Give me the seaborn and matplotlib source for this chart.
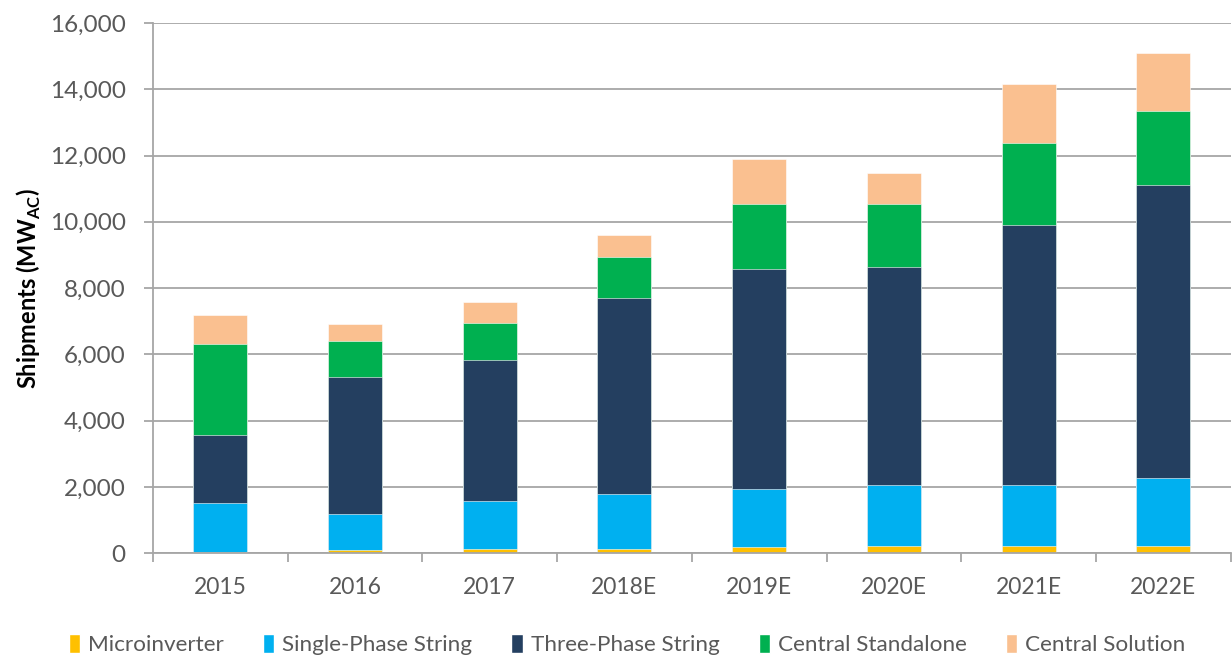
import numpy as np
import pandas as pd
import matplotlib
matplotlib.use("Agg")
import matplotlib.pyplot as plt
import seaborn as sns
from matplotlib.patches import Patch
from matplotlib.ticker import FuncFormatter, FixedLocator

# data (MW AC)
years = ["2015", "2016", "2017", "2018E", "2019E", "2020E", "2021E", "2022E"]
microinverter = [50, 90, 130, 130, 190, 220, 220, 220]
single_phase = [1460, 1080, 1430, 1670, 1740, 1840, 1840, 2040]
three_phase = [2050, 4140, 4260, 5890, 6640, 6590, 7850, 8860]
central_standalone = [2760, 1090, 1120, 1250, 1970, 1890, 2460, 2210]
central_solution = [880, 510, 630, 660, 1370, 920, 1800, 1750]

series = ["Microinverter", "Single-Phase String", "Three-Phase String",
          "Central Standalone", "Central Solution"]
colors = ["#FFC000", "#00B0F0", "#243F60", "#00B050", "#FAC090"]

df = pd.DataFrame({"year": years,
                   "Microinverter": microinverter,
                   "Single-Phase String": single_phase,
                   "Three-Phase String": three_phase,
                   "Central Standalone": central_standalone,
                   "Central Solution": central_solution})
cum = df[series].cumsum(axis=1)

sns.set_theme(style="white")
plt.rcParams['font.family'] = ['Lato', 'DejaVu Sans']
plt.rcParams['mathtext.fontset'] = 'custom'
plt.rcParams['mathtext.rm'] = 'Lato'
plt.rcParams['mathtext.bf'] = 'Lato:bold'

fig, ax = plt.subplots(figsize=(12.32, 6.57), dpi=100)
fig.subplots_adjust(left=0.124, right=0.999, top=0.965, bottom=0.158)

# draw stacked bars as overlapping cumulative totals, top layer first
for name, col in reversed(list(zip(series, colors))):
    sns.barplot(x=df["year"], y=cum[name], color=col, width=0.4,
                saturation=1, ax=ax, edgecolor="white", linewidth=0.4)

gray = "#A6A6A6"
ax.set_ylim(0, 16000)
ax.set_xlim(-0.5, len(years) - 0.5)
ax.yaxis.set_major_locator(FixedLocator(np.arange(0, 16001, 2000)))
ax.yaxis.set_major_formatter(FuncFormatter(lambda v, p: f"{int(v):,}"))
ax.grid(axis="y", color=gray, linewidth=1.3)
ax.set_axisbelow(True)

for s in ["top", "right"]:
    ax.spines[s].set_visible(False)
for s in ["left", "bottom"]:
    ax.spines[s].set_color(gray)
    ax.spines[s].set_linewidth(1.3)

ax.tick_params(axis="y", which="major", length=6.5, color=gray, width=1.3,
               labelsize=17.5, labelcolor="#595959", pad=13, left=True)
ax.tick_params(axis="x", which="major", length=0, labelsize=16.5,
               labelcolor="#595959", pad=17)
ax.set_xticks(np.arange(-0.5, len(years)), minor=True)
ax.tick_params(axis="x", which="minor", length=6.5, color=gray, width=1.3,
               bottom=True)

ax.set_xlabel("")
ax.set_ylabel("Shipments (MW$_{\\mathbf{AC}}$)", fontsize=17,
              fontweight="bold", color="black", labelpad=5)

handles = [Patch(facecolor=c, label=n) for n, c in zip(series, colors)]
leg = ax.legend(handles=handles, loc="center", ncol=5,
                bbox_to_anchor=(0.44, -0.173), frameon=False, fontsize=16.2,
                handlelength=0.5, handleheight=0.9, handletextpad=0.35,
                columnspacing=1.75)
for t in leg.get_texts():
    t.set_color("#595959")

fig.savefig("out.png", dpi=100)
